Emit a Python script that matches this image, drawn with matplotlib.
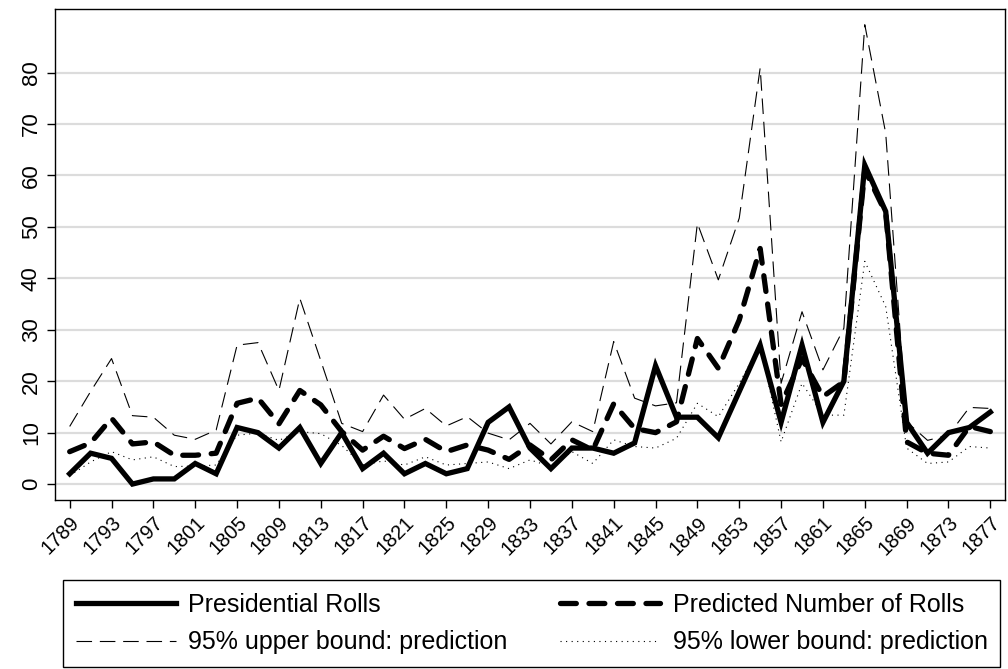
import numpy as np
import matplotlib
matplotlib.use("Agg")
import matplotlib.pyplot as plt

plt.rcParams['font.family'] = ['Liberation Sans', 'DejaVu Sans']

# congress start years
years = list(range(1789, 1879, 2))

# observed presidential roll calls
rolls = [2, 6, 5, 0, 1, 1, 4, 2, 11, 10, 7, 11, 4, 10, 3, 6, 2, 4, 2, 3,
         12, 15, 7, 3, 7, 7, 6, 8, 23, 13, 13, 9, 18, 27, 12, 27, 12, 20,
         62, 53, 12, 6, 10, 11, 14]

# model prediction
predicted = [6.3, 8.0, 12.8, 7.8, 8.2, 5.6, 5.6, 6.0, 15.7, 16.7, 11.7, 18.2,
             15.4, 10.2, 6.6, 9.3, 6.9, 8.7, 6.3, 7.6, 6.6, 4.8, 7.6, 4.7,
             8.6, 6.6, 15.6, 10.8, 10.0, 12.1, 28.3, 22.5, 31.9, 45.8, 15.5,
             24.4, 17.0, 19.9, 61.1, 52.7, 8.2, 6.0, 5.6, 11.2, 10.2]

upper = [11.2, 18.0, 24.4, 13.3, 13.0, 9.5, 8.7, 10.5, 27.0, 27.5, 18.2, 36.1,
         24.0, 11.8, 10.2, 17.3, 12.6, 14.7, 11.3, 13.1, 9.9, 8.6, 11.8, 7.8,
         12.1, 10.2, 27.7, 16.7, 15.2, 15.8, 50.7, 39.7, 51.7, 80.9, 19.6,
         33.5, 22.2, 30.3, 89.3, 68.2, 12.1, 8.5, 9.5, 14.9, 14.7]

lower = [1.6, 4.3, 6.3, 4.7, 5.3, 3.4, 3.5, 3.7, 9.5, 9.9, 8.5, 10.2,
         9.8, 7.5, 3.7, 4.5, 3.7, 5.3, 3.7, 4.0, 4.3, 3.0, 4.7, 3.4,
         6.3, 4.0, 8.6, 7.3, 7.0, 8.9, 15.7, 13.1, 19.6, 27.0, 8.2,
         19.6, 13.4, 13.4, 43.3, 34.5, 7.0, 4.0, 4.3, 7.3, 7.0]

labels = ['Presidential Rolls', 'Predicted Number of Rolls',
          '95% upper bound: prediction', '95% lower bound: prediction']

fig = plt.figure(figsize=(10.08, 6.69), dpi=100)
ax = fig.add_axes([0.0546, 0.2526, 0.9424, 0.7335])

ax.plot(years, upper, color='black', lw=0.8, dashes=(14, 7), label=labels[2])
ax.plot(years, lower, color='black', lw=0.8, dashes=(1, 4), label=labels[3])
ax.plot(years, rolls, color='black', lw=3.8, solid_joinstyle='miter',
        label=labels[0])
ax.plot(years, predicted, color='black', lw=3.8, dashes=(3.0, 2.4),
        dash_capstyle='round', label=labels[1])

ax.set_xlim(1787.6, 1878.4)
ax.set_ylim(-3.1, 92.3)
ax.set_yticks(range(0, 90, 10))
ax.set_xticks(range(1789, 1879, 4))
ax.set_xticklabels([str(y) for y in range(1789, 1879, 4)], rotation=45,
                   ha='right', rotation_mode='anchor', fontsize=14.5)
for t in ax.get_yticklabels():
    t.set_rotation(90)
    t.set_va('center')
    t.set_fontsize(16)
ax.tick_params(axis='both', direction='out', length=6, width=1, colors='black')
ax.yaxis.grid(True, color='#dcdcdc', lw=1.6)
ax.set_axisbelow(True)
for s in ax.spines.values():
    s.set_linewidth(1)
    s.set_color('black')

h, l = ax.get_legend_handles_labels()
# column-major fill: col 1 = rolls, upper; col 2 = predicted, lower
order = [2, 0, 3, 1]
leg = fig.legend([h[i] for i in order], [l[i] for i in order],
                 loc='lower left', bbox_to_anchor=(0.0625, 0.003, 0.93, 0.1315),
                 bbox_transform=fig.transFigure, mode='expand', ncol=2,
                 fontsize=18, handlelength=4.0, handletextpad=0.5,
                 fancybox=False, edgecolor='black', framealpha=1,
                 borderpad=0.5, labelspacing=0.55, borderaxespad=0)
leg.get_frame().set_linewidth(1)

fig.savefig('out.png', dpi=100)
